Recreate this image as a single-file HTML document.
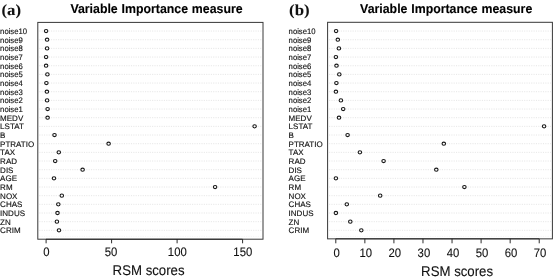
<!DOCTYPE html>
<html><head><meta charset="utf-8"><title>Variable Importance measure</title>
<style>html,body{margin:0;padding:0;background:#fff}svg{display:block}text{font-family:"Liberation Sans",Arial,sans-serif;fill:#111;stroke:#111;stroke-width:0.1px;text-rendering:geometricPrecision}.lab{stroke:#111;stroke-width:0.14px}.tag{font-family:"Liberation Serif","Times New Roman",serif;font-weight:bold;fill:#111;stroke-width:0.05px}.title{font-weight:bold;fill:#000;stroke:#000;stroke-width:0.12px;word-spacing:0.4px}</style></head><body>
<svg width="553" height="280" viewBox="0 0 553 280">
<rect width="553" height="280" fill="#fff"/>
<g>
<line x1="39.30" y1="31.06" x2="261.50" y2="31.06" stroke="#dedede" stroke-width="0.75" stroke-dasharray="1.1 1.25"/>
<line x1="39.30" y1="39.73" x2="261.50" y2="39.73" stroke="#dedede" stroke-width="0.75" stroke-dasharray="1.1 1.25"/>
<line x1="39.30" y1="48.39" x2="261.50" y2="48.39" stroke="#dedede" stroke-width="0.75" stroke-dasharray="1.1 1.25"/>
<line x1="39.30" y1="57.06" x2="261.50" y2="57.06" stroke="#dedede" stroke-width="0.75" stroke-dasharray="1.1 1.25"/>
<line x1="39.30" y1="65.72" x2="261.50" y2="65.72" stroke="#dedede" stroke-width="0.75" stroke-dasharray="1.1 1.25"/>
<line x1="39.30" y1="74.38" x2="261.50" y2="74.38" stroke="#dedede" stroke-width="0.75" stroke-dasharray="1.1 1.25"/>
<line x1="39.30" y1="83.05" x2="261.50" y2="83.05" stroke="#dedede" stroke-width="0.75" stroke-dasharray="1.1 1.25"/>
<line x1="39.30" y1="91.71" x2="261.50" y2="91.71" stroke="#dedede" stroke-width="0.75" stroke-dasharray="1.1 1.25"/>
<line x1="39.30" y1="100.38" x2="261.50" y2="100.38" stroke="#dedede" stroke-width="0.75" stroke-dasharray="1.1 1.25"/>
<line x1="39.30" y1="109.04" x2="261.50" y2="109.04" stroke="#dedede" stroke-width="0.75" stroke-dasharray="1.1 1.25"/>
<line x1="39.30" y1="117.70" x2="261.50" y2="117.70" stroke="#dedede" stroke-width="0.75" stroke-dasharray="1.1 1.25"/>
<line x1="39.30" y1="126.37" x2="261.50" y2="126.37" stroke="#dedede" stroke-width="0.75" stroke-dasharray="1.1 1.25"/>
<line x1="39.30" y1="135.03" x2="261.50" y2="135.03" stroke="#dedede" stroke-width="0.75" stroke-dasharray="1.1 1.25"/>
<line x1="39.30" y1="143.70" x2="261.50" y2="143.70" stroke="#dedede" stroke-width="0.75" stroke-dasharray="1.1 1.25"/>
<line x1="39.30" y1="152.36" x2="261.50" y2="152.36" stroke="#dedede" stroke-width="0.75" stroke-dasharray="1.1 1.25"/>
<line x1="39.30" y1="161.02" x2="261.50" y2="161.02" stroke="#dedede" stroke-width="0.75" stroke-dasharray="1.1 1.25"/>
<line x1="39.30" y1="169.69" x2="261.50" y2="169.69" stroke="#dedede" stroke-width="0.75" stroke-dasharray="1.1 1.25"/>
<line x1="39.30" y1="178.35" x2="261.50" y2="178.35" stroke="#dedede" stroke-width="0.75" stroke-dasharray="1.1 1.25"/>
<line x1="39.30" y1="187.02" x2="261.50" y2="187.02" stroke="#dedede" stroke-width="0.75" stroke-dasharray="1.1 1.25"/>
<line x1="39.30" y1="195.68" x2="261.50" y2="195.68" stroke="#dedede" stroke-width="0.75" stroke-dasharray="1.1 1.25"/>
<line x1="39.30" y1="204.34" x2="261.50" y2="204.34" stroke="#dedede" stroke-width="0.75" stroke-dasharray="1.1 1.25"/>
<line x1="39.30" y1="213.01" x2="261.50" y2="213.01" stroke="#dedede" stroke-width="0.75" stroke-dasharray="1.1 1.25"/>
<line x1="39.30" y1="221.67" x2="261.50" y2="221.67" stroke="#dedede" stroke-width="0.75" stroke-dasharray="1.1 1.25"/>
<line x1="39.30" y1="230.34" x2="261.50" y2="230.34" stroke="#dedede" stroke-width="0.75" stroke-dasharray="1.1 1.25"/>
<line x1="39.30" y1="236.40" x2="261.50" y2="236.40" stroke="#f0f0f0" stroke-width="0.7" stroke-dasharray="1.1 1.25"/>
<rect x="37.80" y="22.40" width="225.20" height="216.80" fill="none" stroke="#383838" stroke-width="1.0"/>
<line x1="46.00" y1="239.20" x2="242.50" y2="239.20" stroke="#000" stroke-width="0.7"/>
<line x1="46.10" y1="239.20" x2="46.10" y2="243.30" stroke="#222" stroke-width="0.95"/>
<text transform="translate(46.30 256.20) scale(0.920 1)" font-size="12.30" text-anchor="middle">0</text>
<line x1="111.60" y1="239.20" x2="111.60" y2="243.30" stroke="#222" stroke-width="0.95"/>
<text transform="translate(111.00 256.20) scale(0.920 1)" font-size="12.30" text-anchor="middle">50</text>
<line x1="177.10" y1="239.20" x2="177.10" y2="243.30" stroke="#222" stroke-width="0.95"/>
<text transform="translate(177.30 256.20) scale(0.920 1)" font-size="12.30" text-anchor="middle">100</text>
<line x1="242.60" y1="239.20" x2="242.60" y2="243.30" stroke="#222" stroke-width="0.95"/>
<text transform="translate(242.80 256.20) scale(0.920 1)" font-size="12.30" text-anchor="middle">150</text>
<ellipse cx="46.10" cy="31.06" rx="1.75" ry="1.60" fill="#fff" stroke="#151515" stroke-width="1.08"/>
<text transform="translate(0.10 34.01) scale(0.962 1)" font-size="8.00" class="lab">noise10</text>
<ellipse cx="47.10" cy="39.73" rx="1.75" ry="1.60" fill="#fff" stroke="#151515" stroke-width="1.08"/>
<text transform="translate(0.10 42.68) scale(0.962 1)" font-size="8.00" class="lab">noise9</text>
<ellipse cx="47.10" cy="48.39" rx="1.75" ry="1.60" fill="#fff" stroke="#151515" stroke-width="1.08"/>
<text transform="translate(0.10 51.34) scale(0.962 1)" font-size="8.00" class="lab">noise8</text>
<ellipse cx="46.10" cy="57.06" rx="1.75" ry="1.60" fill="#fff" stroke="#151515" stroke-width="1.08"/>
<text transform="translate(0.10 60.01) scale(0.962 1)" font-size="8.00" class="lab">noise7</text>
<ellipse cx="46.10" cy="65.72" rx="1.75" ry="1.60" fill="#fff" stroke="#151515" stroke-width="1.08"/>
<text transform="translate(0.10 68.67) scale(0.962 1)" font-size="8.00" class="lab">noise6</text>
<ellipse cx="47.40" cy="74.38" rx="1.75" ry="1.60" fill="#fff" stroke="#151515" stroke-width="1.08"/>
<text transform="translate(0.10 77.33) scale(0.962 1)" font-size="8.00" class="lab">noise5</text>
<ellipse cx="46.40" cy="83.05" rx="1.75" ry="1.60" fill="#fff" stroke="#151515" stroke-width="1.08"/>
<text transform="translate(0.10 86.00) scale(0.962 1)" font-size="8.00" class="lab">noise4</text>
<ellipse cx="46.90" cy="91.71" rx="1.75" ry="1.60" fill="#fff" stroke="#151515" stroke-width="1.08"/>
<text transform="translate(0.10 94.66) scale(0.962 1)" font-size="8.00" class="lab">noise3</text>
<ellipse cx="47.10" cy="100.38" rx="1.75" ry="1.60" fill="#fff" stroke="#151515" stroke-width="1.08"/>
<text transform="translate(0.10 103.33) scale(0.962 1)" font-size="8.00" class="lab">noise2</text>
<ellipse cx="47.60" cy="109.04" rx="1.75" ry="1.60" fill="#fff" stroke="#151515" stroke-width="1.08"/>
<text transform="translate(0.10 111.99) scale(0.962 1)" font-size="8.00" class="lab">noise1</text>
<ellipse cx="47.60" cy="117.70" rx="1.75" ry="1.60" fill="#fff" stroke="#151515" stroke-width="1.08"/>
<text transform="translate(0.10 120.65) scale(1.000 1)" font-size="8.00" class="lab">MEDV</text>
<ellipse cx="254.60" cy="126.37" rx="1.75" ry="1.60" fill="#fff" stroke="#151515" stroke-width="1.08"/>
<text transform="translate(0.10 129.32) scale(1.000 1)" font-size="8.00" class="lab">LSTAT</text>
<ellipse cx="54.50" cy="135.03" rx="1.75" ry="1.60" fill="#fff" stroke="#151515" stroke-width="1.08"/>
<text transform="translate(0.10 137.98) scale(1.000 1)" font-size="8.00" class="lab">B</text>
<ellipse cx="108.60" cy="143.70" rx="1.75" ry="1.60" fill="#fff" stroke="#151515" stroke-width="1.08"/>
<text transform="translate(0.10 146.65) scale(1.000 1)" font-size="8.00" class="lab">PTRATIO</text>
<ellipse cx="58.80" cy="152.36" rx="1.75" ry="1.60" fill="#fff" stroke="#151515" stroke-width="1.08"/>
<text transform="translate(0.10 155.31) scale(1.000 1)" font-size="8.00" class="lab">TAX</text>
<ellipse cx="55.20" cy="161.02" rx="1.75" ry="1.60" fill="#fff" stroke="#151515" stroke-width="1.08"/>
<text transform="translate(0.10 163.97) scale(1.000 1)" font-size="8.00" class="lab">RAD</text>
<ellipse cx="82.60" cy="169.69" rx="1.75" ry="1.60" fill="#fff" stroke="#151515" stroke-width="1.08"/>
<text transform="translate(0.10 172.64) scale(1.000 1)" font-size="8.00" class="lab">DIS</text>
<ellipse cx="54.00" cy="178.35" rx="1.75" ry="1.60" fill="#fff" stroke="#151515" stroke-width="1.08"/>
<text transform="translate(0.10 181.30) scale(1.000 1)" font-size="8.00" class="lab">AGE</text>
<ellipse cx="215.10" cy="187.02" rx="1.75" ry="1.60" fill="#fff" stroke="#151515" stroke-width="1.08"/>
<text transform="translate(0.10 189.97) scale(1.000 1)" font-size="8.00" class="lab">RM</text>
<ellipse cx="61.80" cy="195.68" rx="1.75" ry="1.60" fill="#fff" stroke="#151515" stroke-width="1.08"/>
<text transform="translate(0.10 198.63) scale(1.000 1)" font-size="8.00" class="lab">NOX</text>
<ellipse cx="58.30" cy="204.34" rx="1.75" ry="1.60" fill="#fff" stroke="#151515" stroke-width="1.08"/>
<text transform="translate(0.10 207.29) scale(1.000 1)" font-size="8.00" class="lab">CHAS</text>
<ellipse cx="57.50" cy="213.01" rx="1.75" ry="1.60" fill="#fff" stroke="#151515" stroke-width="1.08"/>
<text transform="translate(0.10 215.96) scale(1.000 1)" font-size="8.00" class="lab">INDUS</text>
<ellipse cx="56.90" cy="221.67" rx="1.75" ry="1.60" fill="#fff" stroke="#151515" stroke-width="1.08"/>
<text transform="translate(0.10 224.62) scale(1.000 1)" font-size="8.00" class="lab">ZN</text>
<ellipse cx="59.00" cy="230.34" rx="1.75" ry="1.60" fill="#fff" stroke="#151515" stroke-width="1.08"/>
<text transform="translate(0.10 233.29) scale(1.000 1)" font-size="8.00" class="lab">CRIM</text>
<text transform="translate(70.40 12.65) scale(0.957 1)" font-size="12.90" class="title">Variable Importance measure</text>
<text transform="translate(112.60 275.30) scale(0.938 1)" font-size="14.10">RSM scores</text>
<text transform="translate(1.50 14.80) scale(1.100 1)" font-size="15.30" class="tag">(a)</text>
</g>
<g>
<line x1="329.10" y1="31.06" x2="550.90" y2="31.06" stroke="#dedede" stroke-width="0.75" stroke-dasharray="1.1 1.25"/>
<line x1="329.10" y1="39.73" x2="550.90" y2="39.73" stroke="#dedede" stroke-width="0.75" stroke-dasharray="1.1 1.25"/>
<line x1="329.10" y1="48.39" x2="550.90" y2="48.39" stroke="#dedede" stroke-width="0.75" stroke-dasharray="1.1 1.25"/>
<line x1="329.10" y1="57.06" x2="550.90" y2="57.06" stroke="#dedede" stroke-width="0.75" stroke-dasharray="1.1 1.25"/>
<line x1="329.10" y1="65.72" x2="550.90" y2="65.72" stroke="#dedede" stroke-width="0.75" stroke-dasharray="1.1 1.25"/>
<line x1="329.10" y1="74.38" x2="550.90" y2="74.38" stroke="#dedede" stroke-width="0.75" stroke-dasharray="1.1 1.25"/>
<line x1="329.10" y1="83.05" x2="550.90" y2="83.05" stroke="#dedede" stroke-width="0.75" stroke-dasharray="1.1 1.25"/>
<line x1="329.10" y1="91.71" x2="550.90" y2="91.71" stroke="#dedede" stroke-width="0.75" stroke-dasharray="1.1 1.25"/>
<line x1="329.10" y1="100.38" x2="550.90" y2="100.38" stroke="#dedede" stroke-width="0.75" stroke-dasharray="1.1 1.25"/>
<line x1="329.10" y1="109.04" x2="550.90" y2="109.04" stroke="#dedede" stroke-width="0.75" stroke-dasharray="1.1 1.25"/>
<line x1="329.10" y1="117.70" x2="550.90" y2="117.70" stroke="#dedede" stroke-width="0.75" stroke-dasharray="1.1 1.25"/>
<line x1="329.10" y1="126.37" x2="550.90" y2="126.37" stroke="#dedede" stroke-width="0.75" stroke-dasharray="1.1 1.25"/>
<line x1="329.10" y1="135.03" x2="550.90" y2="135.03" stroke="#dedede" stroke-width="0.75" stroke-dasharray="1.1 1.25"/>
<line x1="329.10" y1="143.70" x2="550.90" y2="143.70" stroke="#dedede" stroke-width="0.75" stroke-dasharray="1.1 1.25"/>
<line x1="329.10" y1="152.36" x2="550.90" y2="152.36" stroke="#dedede" stroke-width="0.75" stroke-dasharray="1.1 1.25"/>
<line x1="329.10" y1="161.02" x2="550.90" y2="161.02" stroke="#dedede" stroke-width="0.75" stroke-dasharray="1.1 1.25"/>
<line x1="329.10" y1="169.69" x2="550.90" y2="169.69" stroke="#dedede" stroke-width="0.75" stroke-dasharray="1.1 1.25"/>
<line x1="329.10" y1="178.35" x2="550.90" y2="178.35" stroke="#dedede" stroke-width="0.75" stroke-dasharray="1.1 1.25"/>
<line x1="329.10" y1="187.02" x2="550.90" y2="187.02" stroke="#dedede" stroke-width="0.75" stroke-dasharray="1.1 1.25"/>
<line x1="329.10" y1="195.68" x2="550.90" y2="195.68" stroke="#dedede" stroke-width="0.75" stroke-dasharray="1.1 1.25"/>
<line x1="329.10" y1="204.34" x2="550.90" y2="204.34" stroke="#dedede" stroke-width="0.75" stroke-dasharray="1.1 1.25"/>
<line x1="329.10" y1="213.01" x2="550.90" y2="213.01" stroke="#dedede" stroke-width="0.75" stroke-dasharray="1.1 1.25"/>
<line x1="329.10" y1="221.67" x2="550.90" y2="221.67" stroke="#dedede" stroke-width="0.75" stroke-dasharray="1.1 1.25"/>
<line x1="329.10" y1="230.34" x2="550.90" y2="230.34" stroke="#dedede" stroke-width="0.75" stroke-dasharray="1.1 1.25"/>
<line x1="329.10" y1="236.40" x2="550.90" y2="236.40" stroke="#f0f0f0" stroke-width="0.7" stroke-dasharray="1.1 1.25"/>
<rect x="327.60" y="22.30" width="224.80" height="216.55" fill="none" stroke="#383838" stroke-width="1.0"/>
<line x1="335.70" y1="238.85" x2="539.12" y2="238.85" stroke="#000" stroke-width="0.7"/>
<line x1="335.80" y1="238.85" x2="335.80" y2="243.30" stroke="#222" stroke-width="0.95"/>
<text transform="translate(336.70 256.90) scale(0.920 1)" font-size="12.30" text-anchor="middle">0</text>
<line x1="364.86" y1="238.85" x2="364.86" y2="243.30" stroke="#222" stroke-width="0.95"/>
<text transform="translate(365.76 256.90) scale(0.920 1)" font-size="12.30" text-anchor="middle">10</text>
<line x1="393.92" y1="238.85" x2="393.92" y2="243.30" stroke="#222" stroke-width="0.95"/>
<text transform="translate(394.82 256.90) scale(0.920 1)" font-size="12.30" text-anchor="middle">20</text>
<line x1="422.98" y1="238.85" x2="422.98" y2="243.30" stroke="#222" stroke-width="0.95"/>
<text transform="translate(423.88 256.90) scale(0.920 1)" font-size="12.30" text-anchor="middle">30</text>
<line x1="452.04" y1="238.85" x2="452.04" y2="243.30" stroke="#222" stroke-width="0.95"/>
<text transform="translate(452.94 256.90) scale(0.920 1)" font-size="12.30" text-anchor="middle">40</text>
<line x1="481.10" y1="238.85" x2="481.10" y2="243.30" stroke="#222" stroke-width="0.95"/>
<text transform="translate(482.00 256.90) scale(0.920 1)" font-size="12.30" text-anchor="middle">50</text>
<line x1="510.16" y1="238.85" x2="510.16" y2="243.30" stroke="#222" stroke-width="0.95"/>
<text transform="translate(511.06 256.90) scale(0.920 1)" font-size="12.30" text-anchor="middle">60</text>
<line x1="539.22" y1="238.85" x2="539.22" y2="243.30" stroke="#222" stroke-width="0.95"/>
<text transform="translate(540.12 256.90) scale(0.920 1)" font-size="12.30" text-anchor="middle">70</text>
<ellipse cx="336.10" cy="31.06" rx="1.75" ry="1.60" fill="#fff" stroke="#151515" stroke-width="1.08"/>
<text transform="translate(288.60 34.01) scale(0.962 1)" font-size="8.00" class="lab">noise10</text>
<ellipse cx="337.80" cy="39.73" rx="1.75" ry="1.60" fill="#fff" stroke="#151515" stroke-width="1.08"/>
<text transform="translate(288.60 42.68) scale(0.962 1)" font-size="8.00" class="lab">noise9</text>
<ellipse cx="338.90" cy="48.39" rx="1.75" ry="1.60" fill="#fff" stroke="#151515" stroke-width="1.08"/>
<text transform="translate(288.60 51.34) scale(0.962 1)" font-size="8.00" class="lab">noise8</text>
<ellipse cx="335.90" cy="57.06" rx="1.75" ry="1.60" fill="#fff" stroke="#151515" stroke-width="1.08"/>
<text transform="translate(288.60 60.01) scale(0.962 1)" font-size="8.00" class="lab">noise7</text>
<ellipse cx="336.50" cy="65.72" rx="1.75" ry="1.60" fill="#fff" stroke="#151515" stroke-width="1.08"/>
<text transform="translate(288.60 68.67) scale(0.962 1)" font-size="8.00" class="lab">noise6</text>
<ellipse cx="339.30" cy="74.38" rx="1.75" ry="1.60" fill="#fff" stroke="#151515" stroke-width="1.08"/>
<text transform="translate(288.60 77.33) scale(0.962 1)" font-size="8.00" class="lab">noise5</text>
<ellipse cx="336.40" cy="83.05" rx="1.75" ry="1.60" fill="#fff" stroke="#151515" stroke-width="1.08"/>
<text transform="translate(288.60 86.00) scale(0.962 1)" font-size="8.00" class="lab">noise4</text>
<ellipse cx="335.90" cy="91.71" rx="1.75" ry="1.60" fill="#fff" stroke="#151515" stroke-width="1.08"/>
<text transform="translate(288.60 94.66) scale(0.962 1)" font-size="8.00" class="lab">noise3</text>
<ellipse cx="340.90" cy="100.38" rx="1.75" ry="1.60" fill="#fff" stroke="#151515" stroke-width="1.08"/>
<text transform="translate(288.60 103.33) scale(0.962 1)" font-size="8.00" class="lab">noise2</text>
<ellipse cx="343.20" cy="109.04" rx="1.75" ry="1.60" fill="#fff" stroke="#151515" stroke-width="1.08"/>
<text transform="translate(288.60 111.99) scale(0.962 1)" font-size="8.00" class="lab">noise1</text>
<ellipse cx="339.00" cy="117.70" rx="1.75" ry="1.60" fill="#fff" stroke="#151515" stroke-width="1.08"/>
<text transform="translate(288.60 120.65) scale(1.000 1)" font-size="8.00" class="lab">MEDV</text>
<ellipse cx="544.10" cy="126.37" rx="1.75" ry="1.60" fill="#fff" stroke="#151515" stroke-width="1.08"/>
<text transform="translate(288.60 129.32) scale(1.000 1)" font-size="8.00" class="lab">LSTAT</text>
<ellipse cx="347.60" cy="135.03" rx="1.75" ry="1.60" fill="#fff" stroke="#151515" stroke-width="1.08"/>
<text transform="translate(288.60 137.98) scale(1.000 1)" font-size="8.00" class="lab">B</text>
<ellipse cx="443.80" cy="143.70" rx="1.75" ry="1.60" fill="#fff" stroke="#151515" stroke-width="1.08"/>
<text transform="translate(288.60 146.65) scale(1.000 1)" font-size="8.00" class="lab">PTRATIO</text>
<ellipse cx="359.90" cy="152.36" rx="1.75" ry="1.60" fill="#fff" stroke="#151515" stroke-width="1.08"/>
<text transform="translate(288.60 155.31) scale(1.000 1)" font-size="8.00" class="lab">TAX</text>
<ellipse cx="383.60" cy="161.02" rx="1.75" ry="1.60" fill="#fff" stroke="#151515" stroke-width="1.08"/>
<text transform="translate(288.60 163.97) scale(1.000 1)" font-size="8.00" class="lab">RAD</text>
<ellipse cx="436.30" cy="169.69" rx="1.75" ry="1.60" fill="#fff" stroke="#151515" stroke-width="1.08"/>
<text transform="translate(288.60 172.64) scale(1.000 1)" font-size="8.00" class="lab">DIS</text>
<ellipse cx="335.90" cy="178.35" rx="1.75" ry="1.60" fill="#fff" stroke="#151515" stroke-width="1.08"/>
<text transform="translate(288.60 181.30) scale(1.000 1)" font-size="8.00" class="lab">AGE</text>
<ellipse cx="464.40" cy="187.02" rx="1.75" ry="1.60" fill="#fff" stroke="#151515" stroke-width="1.08"/>
<text transform="translate(288.60 189.97) scale(1.000 1)" font-size="8.00" class="lab">RM</text>
<ellipse cx="380.20" cy="195.68" rx="1.75" ry="1.60" fill="#fff" stroke="#151515" stroke-width="1.08"/>
<text transform="translate(288.60 198.63) scale(1.000 1)" font-size="8.00" class="lab">NOX</text>
<ellipse cx="346.80" cy="204.34" rx="1.75" ry="1.60" fill="#fff" stroke="#151515" stroke-width="1.08"/>
<text transform="translate(288.60 207.29) scale(1.000 1)" font-size="8.00" class="lab">CHAS</text>
<ellipse cx="335.90" cy="213.01" rx="1.75" ry="1.60" fill="#fff" stroke="#151515" stroke-width="1.08"/>
<text transform="translate(288.60 215.96) scale(1.000 1)" font-size="8.00" class="lab">INDUS</text>
<ellipse cx="350.30" cy="221.67" rx="1.75" ry="1.60" fill="#fff" stroke="#151515" stroke-width="1.08"/>
<text transform="translate(288.60 224.62) scale(1.000 1)" font-size="8.00" class="lab">ZN</text>
<ellipse cx="361.30" cy="230.34" rx="1.75" ry="1.60" fill="#fff" stroke="#151515" stroke-width="1.08"/>
<text transform="translate(288.60 233.29) scale(1.000 1)" font-size="8.00" class="lab">CRIM</text>
<text transform="translate(360.10 12.65) scale(0.957 1)" font-size="12.90" class="title">Variable Importance measure</text>
<text transform="translate(421.10 275.60) scale(0.938 1)" font-size="14.10">RSM scores</text>
<text transform="translate(289.10 14.80) scale(1.100 1)" font-size="15.30" class="tag">(b)</text>
</g>
</svg>
</body></html>
